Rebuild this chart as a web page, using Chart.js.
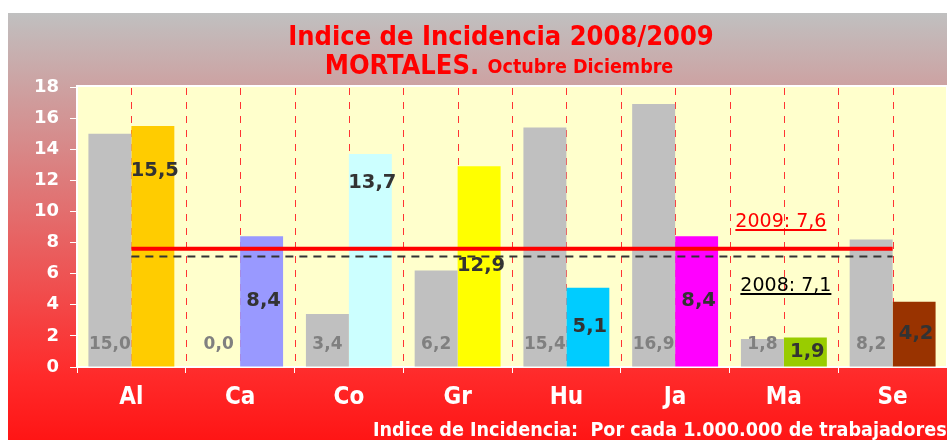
<!DOCTYPE html>
<html>
<head>
<meta charset="utf-8">
<script src="https://cdn.jsdelivr.net/npm/chart.js@4.4.1/dist/chart.umd.min.js"></script>
<style>
  html, body { margin: 0; padding: 0; background: #fff; }
  #wrap { width: 947px; height: 440px; }
</style>
</head>
<body>
<div id="wrap"><canvas id="incChart" width="947" height="440"></canvas></div>
<script>
// datos
const categories = ['Al', 'Ca', 'Co', 'Gr', 'Hu', 'Ja', 'Ma', 'Se'];
const values2008 = [15.0, 0.0, 3.4, 6.2, 15.4, 16.9, 1.8, 8.2];
const values2009 = [15.5, 8.4, 13.7, 12.9, 5.1, 8.4, 1.9, 4.2];
const colors2009 = ['#FFCC00', '#9999FF', '#CCFFFF', '#FFFF00', '#00CCFF', '#FF00FF', '#99CC00', '#993300'];
const yTicks = [0, 2, 4, 6, 8, 10, 12, 14, 16, 18];
const media2008 = 7.1;
const media2009 = 7.6;

const condensed = '"DejaVu Sans Condensed", "Liberation Sans Narrow", "DejaVu Sans", sans-serif';
const verdana = '"DejaVu Sans", Verdana, sans-serif';

const fmt = v => v.toFixed(1).replace('.', ',');

// fondo + area de trazado + titulos
const backgroundPlugin = {
  id: 'backgroundPlugin',
  beforeDraw(chart) {
    const ctx = chart.ctx;
    const area = chart.chartArea;
    ctx.save();
    const grad = ctx.createLinearGradient(0, 13, 0, 440);
    grad.addColorStop(0, '#c0c0c0');
    grad.addColorStop(0.85, '#ff2a2a');
    grad.addColorStop(1, '#ff1515');
    ctx.fillStyle = grad;
    ctx.fillRect(8, 13, 947 - 8, 440 - 13);

    ctx.fillStyle = '#FFFFCC';
    ctx.fillRect(area.left, area.top, area.right - area.left, area.bottom - area.top);
    ctx.strokeStyle = '#ffffff';
    ctx.lineWidth = 2;
    ctx.strokeRect(area.left, area.top - 1, area.right - area.left, area.bottom - area.top + 1);

    // titulos
    ctx.fillStyle = '#FF0000';
    ctx.textBaseline = 'alphabetic';
    ctx.textAlign = 'center';
    ctx.font = 'bold 27px ' + condensed;
    ctx.fillText('Indice de Incidencia 2008/2009', 501, 45);

    const part1 = 'MORTALES. ';
    const part2 = 'Octubre Diciembre';
    ctx.font = 'bold 27px ' + condensed;
    const w1 = ctx.measureText(part1).width;
    ctx.font = 'bold 19.5px ' + condensed;
    const w2 = ctx.measureText(part2).width;
    let x0 = 499 - (w1 + w2) / 2;
    ctx.textAlign = 'left';
    ctx.font = 'bold 27px ' + condensed;
    ctx.fillText(part1, x0, 74);
    ctx.font = 'bold 19.5px ' + condensed;
    ctx.fillText(part2, x0 + w1, 73);

    // nota al pie
    ctx.fillStyle = '#ffffff';
    ctx.font = 'bold 19.6px ' + condensed;
    ctx.fillText('Indice de Incidencia:  Por cada 1.000.000 de trabajadores', 373, 436);
    ctx.restore();
  },
  beforeDatasetsDraw(chart) {
    // lineas verticales discontinuas
    const ctx = chart.ctx;
    const area = chart.chartArea;
    const xs = chart.scales.x;
    const step = xs.getPixelForValue(1) - xs.getPixelForValue(0);
    ctx.save();
    ctx.strokeStyle = '#ff3333';
    ctx.lineWidth = 1;
    ctx.setLineDash([7, 7]);
    for (let i = 0; i < categories.length; i++) {
      const c = Math.round(xs.getPixelForValue(i)) + 0.5;
      const b = Math.round(xs.getPixelForValue(i) + step / 2) + 0.5;
      [c, b].forEach(x => {
        if (x > area.right - 2) return;
        ctx.beginPath();
        ctx.moveTo(x, area.top + 1);
        ctx.lineTo(x, area.bottom);
        ctx.stroke();
      });
    }
    ctx.restore();
  },
  afterDatasetsDraw(chart) {
    const ctx = chart.ctx;
    const xs = chart.scales.x;
    const ys = chart.scales.y;
    const x1 = xs.getPixelForValue(0);
    const x2 = xs.getPixelForValue(categories.length - 1);
    ctx.save();
    // media 2008
    ctx.strokeStyle = '#333333';
    ctx.lineWidth = 2;
    ctx.setLineDash([8, 6]);
    ctx.beginPath();
    ctx.moveTo(x1, ys.getPixelForValue(media2008));
    ctx.lineTo(x2, ys.getPixelForValue(media2008));
    ctx.stroke();
    // media 2009
    ctx.setLineDash([]);
    ctx.strokeStyle = '#FF0000';
    ctx.lineWidth = 4;
    ctx.beginPath();
    ctx.moveTo(x1, ys.getPixelForValue(media2009));
    ctx.lineTo(x2, ys.getPixelForValue(media2009));
    ctx.stroke();

    // etiquetas de media
    ctx.font = '19px ' + verdana;
    ctx.textAlign = 'center';
    ctx.textBaseline = 'alphabetic';
    const tx = xs.getPixelForValue(6);
    const drawUnder = (txt, cx, by, color) => {
      ctx.fillStyle = color;
      ctx.fillText(txt, cx, by);
      const w = ctx.measureText(txt).width;
      ctx.fillRect(cx - w / 2, by + 2, w, 2);
    };
    drawUnder('2009: ' + fmt(media2009), tx - 3, 227, '#FF0000');
    drawUnder('2008: ' + fmt(media2008), tx + 2, 291, '#000000');

    // etiquetas de barras
    const meta08 = chart.getDatasetMeta(0);
    const meta09 = chart.getDatasetMeta(1);
    const lift09 = { 0: 75, 2: 77 };
    ctx.textBaseline = 'middle';
    meta08.data.forEach((bar, i) => {
      ctx.font = 'bold 17px ' + verdana;
      ctx.fillStyle = '#808080';
      ctx.fillText(fmt(values2008[i]), bar.x, bar.base - 22);
    });
    meta09.data.forEach((bar, i) => {
      ctx.font = 'bold 19.5px ' + verdana;
      ctx.fillStyle = '#333333';
      const y = (bar.y + bar.base) / 2 - (lift09[i] || 0);
      ctx.fillText(fmt(values2009[i]), bar.x + 2, y);
    });
    ctx.restore();
  }
};

new Chart(document.getElementById('incChart'), {
  type: 'bar',
  data: {
    labels: categories,
    datasets: [
      { label: '2008', data: values2008, backgroundColor: '#C0C0C0', categoryPercentage: 0.79, barPercentage: 1 },
      { label: '2009', data: values2009, backgroundColor: colors2009, categoryPercentage: 0.79, barPercentage: 1 }
    ]
  },
  options: {
    responsive: false,
    animation: false,
    devicePixelRatio: 1,
    layout: { padding: { left: 0, top: 87, right: 0, bottom: 0 } },
    plugins: {
      legend: { display: false },
      tooltip: { enabled: false }
    },
    scales: {
      x: {
        afterFit: s => { s.height = 73; },
        grid: { drawOnChartArea: false, color: '#ffffff', tickLength: 6 },
        border: { color: '#ffffff', width: 1 },
        ticks: { color: '#ffffff', font: { family: condensed, size: 24, weight: 'bold' }, padding: 10 }
      },
      y: {
        min: 0,
        max: 18,
        afterFit: s => { s.width = 77; },
        afterBuildTicks: s => { s.ticks = yTicks.map(v => ({ value: v })); },
        grid: { drawOnChartArea: false, color: '#ffffff', tickLength: 7 },
        border: { color: '#ffffff', width: 1 },
        ticks: { color: '#ffffff', font: { family: verdana, size: 18, weight: 'bold' }, padding: 11 }
      }
    }
  },
  plugins: [backgroundPlugin]
});
</script>
</body>
</html>
